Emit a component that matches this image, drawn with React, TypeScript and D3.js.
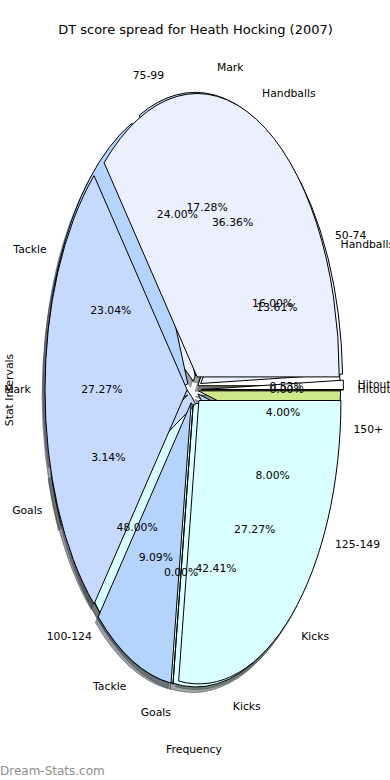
import React from 'react';
import * as d3 from 'd3';

// score intervals (games in each band)
const intervalLabels = ['50-74', '75-99', '100-124', '125-149', '150+'];
const intervalGames = [4, 6, 12, 2, 1];

// stat categories, season share (%) and top-game counts
const statLabels = ['Hitout', 'Handballs', 'Mark', 'Tackle', 'Goals', 'Kicks'];
const seasonShare = [0.53, 13.61, 17.28, 23.04, 3.14, 42.41];
const topGameCounts = [0, 4, 3, 1, 0, 3];

const sliceColors = ['#ffffff', '#eaf0fe', '#c6d9fe', '#b4d4fe', '#cee98b', '#d9ffff'];

const W = 390;
const H = 780;
const cx = 194.2;
const cy = 389.8;
const rx = 142.1;
const ry = 283.4;
const R = 100;
const font = 'DejaVu Sans, sans-serif';

const x = d3.scaleLinear().domain([-1, 1]).range([cx - rx, cx + rx]);
const y = d3.scaleLinear().domain([-1, 1]).range([cy + ry, cy - ry]);

// matplotlib style: start at 3 o'clock, counter clockwise
const pie = d3.pie<number>().sort(null).startAngle(Math.PI / 2).endAngle(Math.PI / 2 - 2 * Math.PI);
const arc = d3.arc<d3.PieArcDatum<number>>().innerRadius(0).outerRadius(R);

function layout(values: number[], labels: string[], key: string, explode: number) {
  const total = d3.sum(values);
  return pie(values).map((d, i) => {
    const m = (d.startAngle + d.endAngle) / 2;
    const dx = Math.sin(m), dy = Math.cos(m);
    const ox = explode * dx, oy = explode * dy;
    return {
      key: key + i,
      d,
      color: sliceColors[i % sliceColors.length],
      ox, oy,
      lx: ox + 1.1 * dx, ly: oy + 1.1 * dy,
      px: ox + 0.6 * dx, py: oy + 0.6 * dy,
      label: labels[i],
      pct: d3.format('.2f')((values[i] / total) * 100) + '%',
    };
  });
}

const pies = [
  layout(intervalGames, intervalLabels, 'a', 0.03),
  layout(seasonShare, statLabels, 'b', 0.05),
  layout(topGameCounts, statLabels, 'c', 0.05),
];

function shade(c: string) {
  const rgb = d3.rgb(c);
  return d3.rgb(rgb.r * 0.3, rgb.g * 0.3, rgb.b * 0.3).formatHex();
}

export default function App() {
  const slices = pies.flat();
  return (
    <svg width={W} height={H} style={{ position: 'absolute', left: 0, top: 0, background: '#fff' }}>
      <text x={195.5} y={34} textAnchor="middle" fontFamily={font} fontSize={13}>
        DT score spread for Heath Hocking (2007)
      </text>
      {slices.map(s => (
        <path
          key={'sh' + s.key}
          d={arc(s.d) as string}
          transform={`translate(${x(s.ox - 0.02)},${y(s.oy - 0.02)}) scale(${rx / R},${ry / R})`}
          fill={shade(s.color)}
          fillOpacity={0.5}
          stroke={shade(s.color)}
          strokeOpacity={0.5}
          strokeWidth={1}
          vectorEffect="non-scaling-stroke"
        />
      ))}
      {slices.map(s => (
        <path
          key={'w' + s.key}
          d={arc(s.d) as string}
          transform={`translate(${x(s.ox)},${y(s.oy)}) scale(${rx / R},${ry / R})`}
          fill={s.color}
          stroke="#000"
          strokeWidth={1}
          strokeLinejoin="round"
          vectorEffect="non-scaling-stroke"
        />
      ))}
      {slices.map(s => (
        <g key={'t' + s.key} fontFamily={font} fontSize={10.8} fill="#000">
          <text x={x(s.lx)} y={y(s.ly)} textAnchor={s.lx > 0 ? 'start' : 'end'} dominantBaseline="central">
            {s.label}
          </text>
          <text x={x(s.px)} y={y(s.py)} textAnchor="middle" dominantBaseline="central">
            {s.pct}
          </text>
        </g>
      ))}
      <text x={194} y={753} textAnchor="middle" fontFamily={font} fontSize={10.8}>Frequency</text>
      <text transform="translate(13,390) rotate(-90)" textAnchor="middle" fontFamily={font} fontSize={10.8}>
        Stat Intervals
      </text>
      <text x={0} y={775} fontFamily={font} fontSize={12} fill="#8e8e8e">Dream-Stats.com</text>
    </svg>
  );
}
